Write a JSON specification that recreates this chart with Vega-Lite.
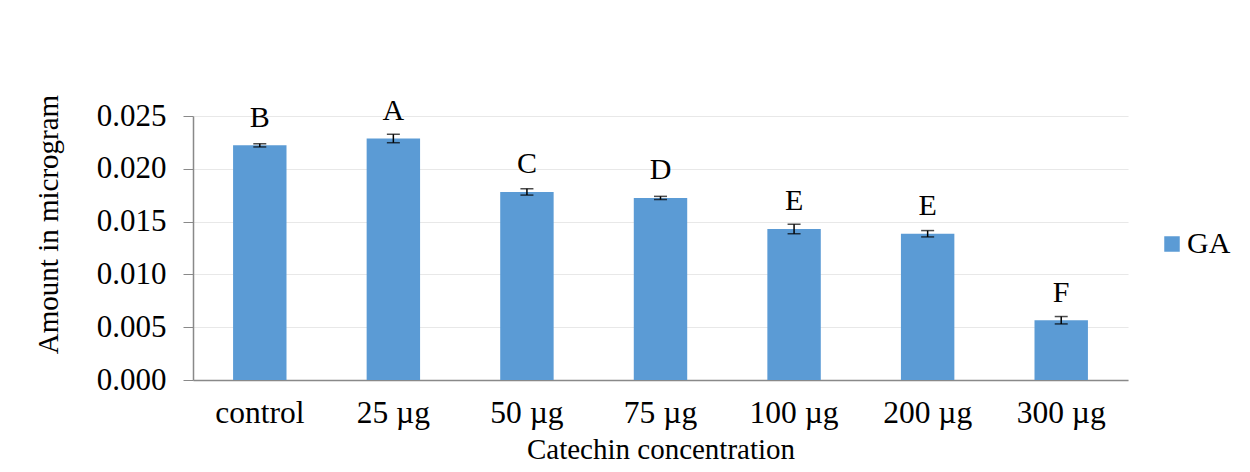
{
  "$schema": "https://vega.github.io/schema/vega-lite/v6.json",
  "autosize": "none",
  "width": 935,
  "height": 264,
  "padding": {"left": 193, "top": 116, "right": 122, "bottom": 92},
  "background": "white",
  "config": {
    "font": "Liberation Serif",
    "view": {"stroke": null},
    "text": {"font": "Liberation Serif"},
    "axis": {"labelFont": "Liberation Serif", "titleFont": "Liberation Serif", "labelColor": "black", "titleColor": "black", "titleFontWeight": "normal"},
    "legend": {"labelFont": "Liberation Serif"}
  },
  "data": {
    "values": [
      {"conc": "control", "value": 0.02222, "err": 0.00015, "letter": "B", "series": "GA"},
      {"conc": "25 µg", "value": 0.02287, "err": 0.0004, "letter": "A", "series": "GA"},
      {"conc": "50 µg", "value": 0.01781, "err": 0.0003, "letter": "C", "series": "GA"},
      {"conc": "75 µg", "value": 0.01724, "err": 0.00015, "letter": "D", "series": "GA"},
      {"conc": "100 µg", "value": 0.0143, "err": 0.00045, "letter": "E", "series": "GA"},
      {"conc": "200 µg", "value": 0.01385, "err": 0.0003, "letter": "E", "series": "GA"},
      {"conc": "300 µg", "value": 0.00566, "err": 0.00035, "letter": "F", "series": "GA"}
    ]
  },
  "encoding": {
    "x": {
      "field": "conc", "type": "nominal", "sort": null,
      "scale": {"paddingInner": 0.6, "paddingOuter": 0.3},
      "axis": {"title": "Catechin concentration", "labelFont": "Liberation Serif", "titleFont": "Liberation Serif", "labelAngle": 0, "labelFontSize": 31.5, "titleFontSize": 29, "ticks": false, "labelPadding": 17, "titlePadding": 7, "domainColor": "#898989", "domainWidth": 1.5, "grid": false}
    },
    "y": {
      "field": "value", "type": "quantitative",
      "scale": {"domain": [0, 0.025], "nice": false},
      "axis": {"title": "Amount in microgram", "labelFont": "Liberation Serif", "titleFont": "Liberation Serif", "format": ".3f", "values": [0, 0.005, 0.01, 0.015, 0.02, 0.025], "labelFontSize": 31, "titleFontSize": 29, "tickSize": 10, "tickColor": "#898989", "domainColor": "#898989", "domainWidth": 1.5, "labelPadding": 17, "titleAngle": -90, "titleAlign": "center", "titleBaseline": "middle", "titleX": -145, "titleY": 108, "gridColor": "#E8E8E8", "gridWidth": 1.2}
    }
  },
  "layer": [
    {
      "mark": {"type": "bar", "color": "#5B9BD5"},
      "encoding": {
        "color": {
          "field": "series", "type": "nominal",
          "scale": {"range": ["#5B9BD5"]},
          "legend": {"title": null, "orient": "none", "legendX": 964, "legendY": 113, "symbolType": "square", "symbolSize": 240, "symbolStrokeWidth": 0, "labelFontSize": 30, "labelFont": "Liberation Serif", "labelColor": "black", "labelOffset": 0}
        }
      }
    },
    {
      "mark": {"type": "errorbar", "ticks": {"size": 13, "thickness": 1.5, "color": "black"}, "rule": {"strokeWidth": 1.5, "color": "black"}},
      "encoding": {
        "yError": {"field": "err"}
      }
    },
    {
      "mark": {"type": "text", "fontSize": 30, "font": "Liberation Serif", "baseline": "alphabetic", "dy": -18.5, "color": "black"},
      "encoding": {
        "text": {"field": "letter"}
      }
    }
  ]
}
